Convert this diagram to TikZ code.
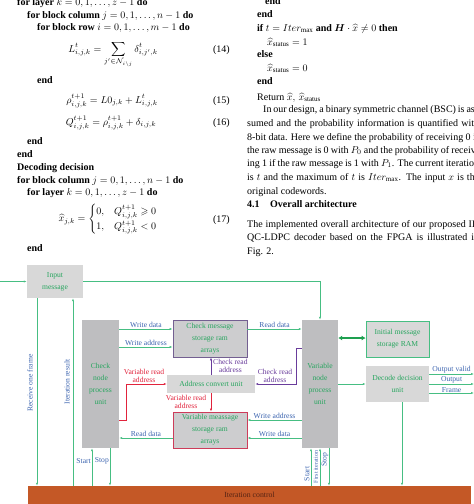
\documentclass[tikz,border=0pt]{standalone}
\usepackage{amsmath,amssymb}
\usepackage{fontspec}
\setmainfont{Liberation Serif}
\usetikzlibrary{arrows.meta,positioning}

\definecolor{lgreen}{RGB}{70,190,130}
\definecolor{dgreen}{RGB}{30,160,80}
\definecolor{tgreen}{RGB}{40,165,95}
\definecolor{lblue}{RGB}{60,100,175}
\definecolor{lpurple}{RGB}{105,60,155}
\definecolor{lred}{RGB}{225,35,60}
\definecolor{unitgray}{RGB}{190,190,192}
\definecolor{boxgray}{RGB}{216,216,216}
\definecolor{storegray}{RGB}{205,205,207}
\definecolor{cborder}{RGB}{115,95,145}
\definecolor{vborder}{RGB}{205,60,90}
\definecolor{ctrlorange}{RGB}{196,88,38}
\definecolor{ctrltext}{RGB}{85,35,20}

\begin{document}
\begin{tikzpicture}[x=1pt,y=-1pt,
alg/.style={anchor=base west,inner sep=0pt,font=\fontsize{10}{12}\selectfont},
eqn/.style={anchor=base,inner sep=0pt,font=\fontsize{10}{12}\selectfont},
num/.style={anchor=base east,inner sep=0pt,font=\fontsize{10}{12}\selectfont},
unit/.style={fill=unitgray,text=tgreen,align=center,inner sep=0pt,font=\fontsize{7.6}{12}\selectfont},
light/.style={fill=boxgray,text=tgreen,align=center,inner sep=0pt,font=\fontsize{7.6}{12}\selectfont},
store/.style={fill=storegray,text=tgreen,align=center,inner sep=0pt,line width=0.7pt,font=\fontsize{7.6}{12}\selectfont},
lab/.style={text=lblue,align=center,inner sep=1pt,font=\fontsize{7.6}{8}\selectfont},
arr/.style={draw=lgreen,line width=0.6pt,-{Latex[length=3pt,width=2.2pt]}},
parr/.style={draw=lpurple,line width=0.6pt,-{Latex[length=3pt,width=2.2pt]}},
rarr/.style={draw=lred,line width=0.6pt,-{Latex[length=3pt,width=2.2pt]}},
dbl/.style={draw=dgreen,line width=1.8pt,{Latex[length=4pt,width=5pt]}-{Latex[length=4pt,width=5pt]}}]
\useasboundingbox (0,0) rectangle (474,504);
\begin{scope}
\clip (0,0) rectangle (474,504);

\node[alg] (l1) at (17,5.5) {\textbf{for layer} $k=0,1,\ldots,z-1$ \textbf{do}};
\node[alg] (l2) at (27,18) {\textbf{for block column} $j=0,1,\ldots,n-1$ \textbf{do}};
\node[alg] (l3) at (37,30) {\textbf{for block row} $i=0,1,\ldots,m-1$ \textbf{do}};
\node[eqn] (e14) at (113,52) {$\displaystyle L^{t}_{i,j,k}=\sum_{j'\in\mathcal{N}_{i\setminus j}}\delta^{t}_{i,j',k}$};
\node[num] (n14) at (230,52) {(14)};
\node[alg] (l4) at (37,83) {\textbf{end}};
\node[eqn] (e15) at (112,103) {$\displaystyle \rho^{t+1}_{i,j,k}=L0_{j,k}+L^{t}_{i,j,k}$};
\node[num] (n15) at (230,103) {(15)};
\node[eqn] (e16) at (111,125) {$\displaystyle Q^{t+1}_{i,j,k}=\rho^{t+1}_{i,j,k}+\delta_{i,j,k}$};
\node[num] (n16) at (230,125) {(16)};
\node[alg] (l5) at (27,144) {\textbf{end}};
\node[alg] (l6) at (17,157) {\textbf{end}};
\node[alg] (l7) at (17,170) {\textbf{Decoding decision}};
\node[alg] (l8) at (17,183) {\textbf{for block column} $j=0,1,\ldots,n-1$ \textbf{do}};
\node[alg] (l9) at (27,195) {\textbf{for layer} $k=0,1,\ldots,z-1$ \textbf{do}};
\node[inner sep=0pt,font=\fontsize{10}{12}\selectfont] (e17) at (108,219)
  {$\displaystyle \widehat{x}_{j,k}=\begin{cases}0, & Q^{t+1}_{i,j,k}\geqslant 0\\[1pt] 1, & Q^{t+1}_{i,j,k}<0\end{cases}$};
\node[num] (n17) at (230,222) {(17)};
\node[alg] (l10) at (27,251) {\textbf{end}};

\node[alg] (r1) at (265,4) {\textbf{end}};
\node[alg] (r2) at (257,17) {\textbf{end}};
\node[alg] (r3) at (257,31) {\textbf{if} $t=Iter_{\max}$ \textbf{and} $\boldsymbol{H}\cdot\widehat{x}\neq 0$ \textbf{then}};
\node[alg] (r4) at (267,45) {$\widehat{x}_{\mathrm{status}}=1$};
\node[alg] (r5) at (257,57) {\textbf{else}};
\node[alg] (r6) at (267,71) {$\widehat{x}_{\mathrm{status}}=0$};
\node[alg] (r7) at (257,84) {\textbf{end}};
\node[alg] (r8) at (257,100) {Return $\widehat{x},\,\widehat{x}_{\mathrm{status}}$};
\node[alg] (p1) at (263,112) {\makebox[215pt][s]{In our design, a binary symmetric channel (BSC) is as-}};
\node[alg] (p2) at (247,126) {\makebox[232pt][s]{sumed and the probability information is quantified with}};
\node[alg] (p3) at (247,140) {\makebox[232pt][s]{8-bit data. Here we define the probability of receiving 0 if}};
\node[alg] (p4) at (247,153) {\makebox[232pt][s]{the raw message is 0 with $P_0$ and the probability of receiv-}};
\node[alg] (p5) at (247,166) {\makebox[232pt][s]{ing 1 if the raw message is 1 with $P_1$. The current iteration}};
\node[alg] (p6) at (247,180) {\makebox[232pt][s]{is $t$ and the maximum of $t$ is $Iter_{\max}$. The input $x$ is the}};
\node[alg] (p7) at (247,194) {original codewords.};
\node[alg] (h41) at (247,207) {\makebox[23pt][l]{\textbf{4.1}}\textbf{Overall architecture}};
\node[alg] (p8) at (247,227) {\makebox[232pt][s]{The implemented overall architecture of our proposed IH}};
\node[alg] (p9) at (247,240) {\makebox[232pt][s]{QC-LDPC decoder based on the FPGA is illustrated in}};
\node[alg] (p10) at (247,254) {Fig. 2.};

\node[light,minimum width=56pt,minimum height=33pt] (inmsg) at (55,281.5) {Input\\message};
\node[unit,minimum width=37pt,minimum height=128pt] (cnpu) at (100.5,384) {Check\\node\\process\\unit};
\node[store,draw=cborder,minimum width=74pt,minimum height=37pt] (cmsr) at (210,338.5) {Check message\\storage ram\\arrays};
\node[light,minimum width=88pt,minimum height=18pt] (acu) at (211,384) {Address convert unit};
\node[store,draw=vborder,minimum width=74pt,minimum height=36pt] (vmsr) at (210,430) {Variable meassage\\storage ram\\arrays};
\node[unit,minimum width=36pt,minimum height=128pt] (vnpu) at (320,384) {Variable\\node\\process\\unit};
\node[light,draw=lgreen,line width=0.7pt,minimum width=63pt,minimum height=36pt] (imsr) at (397.5,339) {Initial message\\storage RAM};
\node[light,minimum width=63pt,minimum height=36pt] (ddu) at (397.5,384) {Decode decision\\unit};
\node[fill=ctrlorange,text=ctrltext,inner sep=0pt,minimum width=443pt,minimum height=18pt,font=\fontsize{7.8}{8}\selectfont] (ctrl) at (249.5,495) {Iteration control};

\coordinate (src) at (0,281.5);
\coordinate (ov) at (474,374);
\coordinate (op) at (474,384);
\coordinate (of) at (474,393);

\draw[arr] (src) -- (inmsg.west);
\draw[arr] (inmsg.east) -| (vnpu.north);
\draw[arr] (inmsg.south -| 37,0) -- (ctrl.north -| 37,0);
\draw[arr] (ctrl.north -| 73,0) -- (inmsg.south -| 73,0);
\node[lab,rotate=90] (lrecv) at (30,383) {Receive one frame};
\node[lab,rotate=90] (liter) at (67,382) {Iteration result};

\draw[arr] (ctrl.north -| 92,0) -- (cnpu.south -| 92,0);
\draw[arr] (cnpu.south -| 110,0) -- (ctrl.north -| 110,0);
\node[lab,anchor=east] (lst1) at (92,461) {Start};
\node[lab,anchor=east] (lsp1) at (110,461) {Stop};

\draw[arr] (cnpu.east |- 0,329) -- node[lab,above] (lwd1) {Write data} (cmsr.west |- 0,329);
\draw[arr] (cnpu.east |- 0,347) -- node[lab,above] (lwa1) {Write address} (cmsr.west |- 0,347);
\draw[arr] (cmsr.east |- 0,329) -- node[lab,above] (lrd1) {Read data} (vnpu.west |- 0,329);
\draw[parr] (acu.north -| 211,0) -- (cmsr.south -| 211,0);
\node[lab,text=lpurple,anchor=west] (lcra1) at (212,366) {Check read\\address};
\draw[parr] (vnpu.west |- 0,348) -- (296,348) |- (acu.east);
\node[lab,text=lpurple] (lcra2) at (275,375.5) {Check read\\address};
\draw[rarr] (cnpu.east |- 0,420) -- (126,420) |- (acu.west);
\node[lab,text=lred] (lvra1) at (144,375.5) {Variable read\\address};
\draw[rarr] (acu.south -| 211,0) -- (vmsr.north -| 211,0);
\node[lab,text=lred] (lvra2) at (186,401.5) {Variable read\\address};
\draw[arr] (vnpu.west |- 0,420) -- node[lab,above] (lwa2) {Write address} (vmsr.east |- 0,420);
\draw[arr] (vnpu.west |- 0,438) -- node[lab,above] (lwd2) {Write data} (vmsr.east |- 0,438);
\draw[arr] (vmsr.west |- 0,438) -- node[lab,above] (lrd2) {Read data} (cnpu.east |- 0,438);

\draw[dbl] (vnpu.east |- 0,338) -- (imsr.west |- 0,338);
\draw[arr] (vnpu.east) -- (ddu.west);
\draw[arr] (ddu.east |- ov) -- node[lab,above,inner sep=0.5pt] (lov) {Output valid} (ov);
\draw[arr] (ddu.east |- op) -- node[lab,above,inner sep=0.5pt] (lop) {Output} (op);
\draw[arr] (ddu.east |- of) -- node[lab,above,inner sep=0.5pt] (lof) {Frame} (of);
\draw[arr] (ddu.south -| 402,0) -- (ctrl.north -| 402,0);

\draw[arr] (ctrl.north -| 311,0) -- (vnpu.south -| 311,0);
\draw[arr] (ctrl.north -| 320,0) -- (vnpu.south -| 320,0);
\draw[arr] (vnpu.south -| 329,0) -- (ctrl.north -| 329,0);
\node[lab,rotate=90] (lst2) at (307,474) {Start};
\node[lab,rotate=90,font=\fontsize{6}{7}\selectfont] (lfi) at (316,467) {First iteration};
\node[lab,rotate=90] (lsp2) at (325,460) {Stop};
\end{scope}
\end{tikzpicture}
\end{document}
